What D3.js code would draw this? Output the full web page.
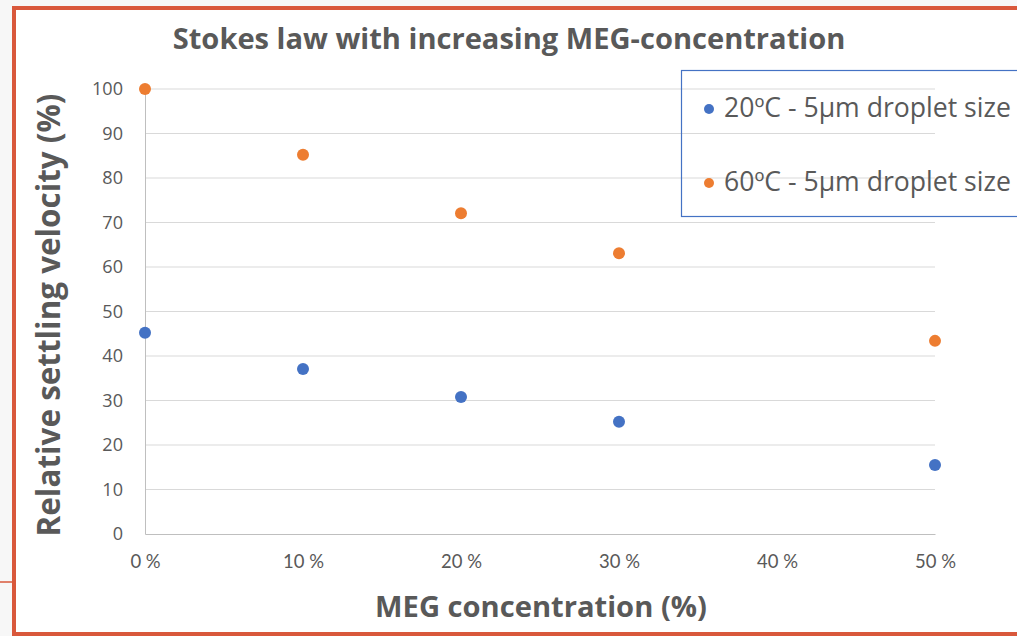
<!DOCTYPE html>
<html><head><meta charset="utf-8">
<script src="https://cdn.jsdelivr.net/npm/d3@7"></script>
<style>html,body{margin:0;padding:0;background:#fff;overflow:hidden}</style>
</head><body>
<script>
const xCategories = [0, 10, 20, 30, 50];
const xTicks = [0, 10, 20, 30, 40, 50];
const yTicks = [0, 10, 20, 30, 40, 50, 60, 70, 80, 90, 100];
const series20 = [45.2, 37.1, 30.8, 25.2, 15.5];
const series60 = [100, 85.2, 72.1, 63.1, 43.4];
const seriesNames = ["20ºC - 5µm droplet size", "60ºC - 5µm droplet size"];
const colors = ["#4472C4", "#ED7D31"];

const W = 1017, H = 636;
const svg = d3.select("body").append("svg").attr("width", W).attr("height", H);
const font = "'Open Sans', sans-serif";
const fontNarrow = "Lato, sans-serif";

// scale a selection's font so that the first node's width equals target
function fit(sel, target) {
  const n = sel.node();
  const base = parseFloat(sel.attr("font-size"));
  const len = n.getComputedTextLength();
  sel.attr("font-size", base * target / len);
}

svg.append("rect").attr("x",0).attr("y",0).attr("width",W).attr("height",H).attr("fill","#f7f7f7");
svg.append("line").attr("x1",0).attr("x2",14).attr("y1",582).attr("y2",582).attr("stroke","#D9583B").attr("stroke-width",1.5);
svg.append("rect").attr("x",14).attr("y",8).attr("width",W+20).attr("height",626)
  .attr("fill","#fff").attr("stroke","#D9583B").attr("stroke-width",4);

const x = d3.scaleLinear().domain([0,50]).range([145,935]);
const y = d3.scaleLinear().domain([0,100]).range([534,89]);

// gridlines
svg.append("g").selectAll("line").data(yTicks.filter(d=>d>0)).join("line")
  .attr("x1",x(0)).attr("x2",x(50)).attr("y1",d=>y(d)).attr("y2",d=>y(d))
  .attr("stroke","#d9d9d9").attr("stroke-width",1);

// axes
const yAxis = d3.axisLeft(y).tickValues(yTicks).tickSize(0).tickPadding(22);
const gy = svg.append("g").attr("transform",`translate(${x(0)},0)`).call(yAxis);
gy.select(".domain").attr("stroke","#bfbfbf");
const ytxt = gy.selectAll("text").attr("font-family",font).attr("font-size",15).attr("fill","#595959");
{
  const t = gy.selectAll(".tick").filter(d=>d===100).select("text");
  const f = 31 / t.node().getComputedTextLength();
  ytxt.attr("font-size", 15*f);
}

const xAxis = d3.axisBottom(x).tickValues(xTicks).tickSize(0).tickPadding(21).tickFormat(d=>d+" %");
const gx = svg.append("g").attr("transform",`translate(0,${y(0)})`).call(xAxis);
gx.select(".domain").attr("stroke","#bfbfbf");
const xtxt = gx.selectAll("text").attr("font-family",fontNarrow).attr("font-size",14).attr("fill","#595959");
{
  const t = gx.selectAll(".tick").filter(d=>d===10).select("text");
  const f = 41 / t.node().getComputedTextLength();
  xtxt.attr("font-size", 14*f);
}

// points
[series20, series60].forEach((s,i)=>{
  svg.append("g").selectAll("circle").data(s).join("circle")
    .attr("cx",(d,j)=>x(xCategories[j])).attr("cy",d=>y(d)).attr("r",6)
    .attr("fill",colors[i]);
});

// titles
const title = svg.append("text").attr("x",509).attr("y",49).attr("text-anchor","middle")
  .attr("font-family",font).attr("font-weight","bold").attr("font-size",24).attr("fill","#595959")
  .text("Stokes law with increasing MEG-concentration");
fit(title, 673);
const xt = svg.append("text").attr("x",541).attr("y",617).attr("text-anchor","middle")
  .attr("font-family",font).attr("font-weight","bold").attr("font-size",24).attr("fill","#595959")
  .text("MEG concentration (%)");
fit(xt, 332);
const yt = svg.append("text").attr("transform","translate(60,315) rotate(-90)").attr("text-anchor","middle")
  .attr("font-family",font).attr("font-weight","bold").attr("font-size",22).attr("fill","#595959")
  .text("Relative settling velocity (%)");
fit(yt, 443);

// legend
svg.append("rect").attr("x",681.5).attr("y",70.5).attr("width",400).attr("height",146)
  .attr("fill","none").attr("stroke","#4472C4").attr("stroke-width",1.2);
const lg = svg.append("g").selectAll("g").data(seriesNames).join("g")
  .attr("transform",(d,i)=>`translate(709,${109+i*74})`);
lg.append("circle").attr("r",5).attr("fill",(d,i)=>colors[i]);
const ltxt = lg.append("text").attr("x",15).attr("y",8).attr("font-family",font).attr("font-size",20)
  .attr("fill","#595959").text(d=>d);
{
  const f = 287 / ltxt.node().getComputedTextLength();
  ltxt.attr("font-size", 20*f);
}
</script>
</body></html>
